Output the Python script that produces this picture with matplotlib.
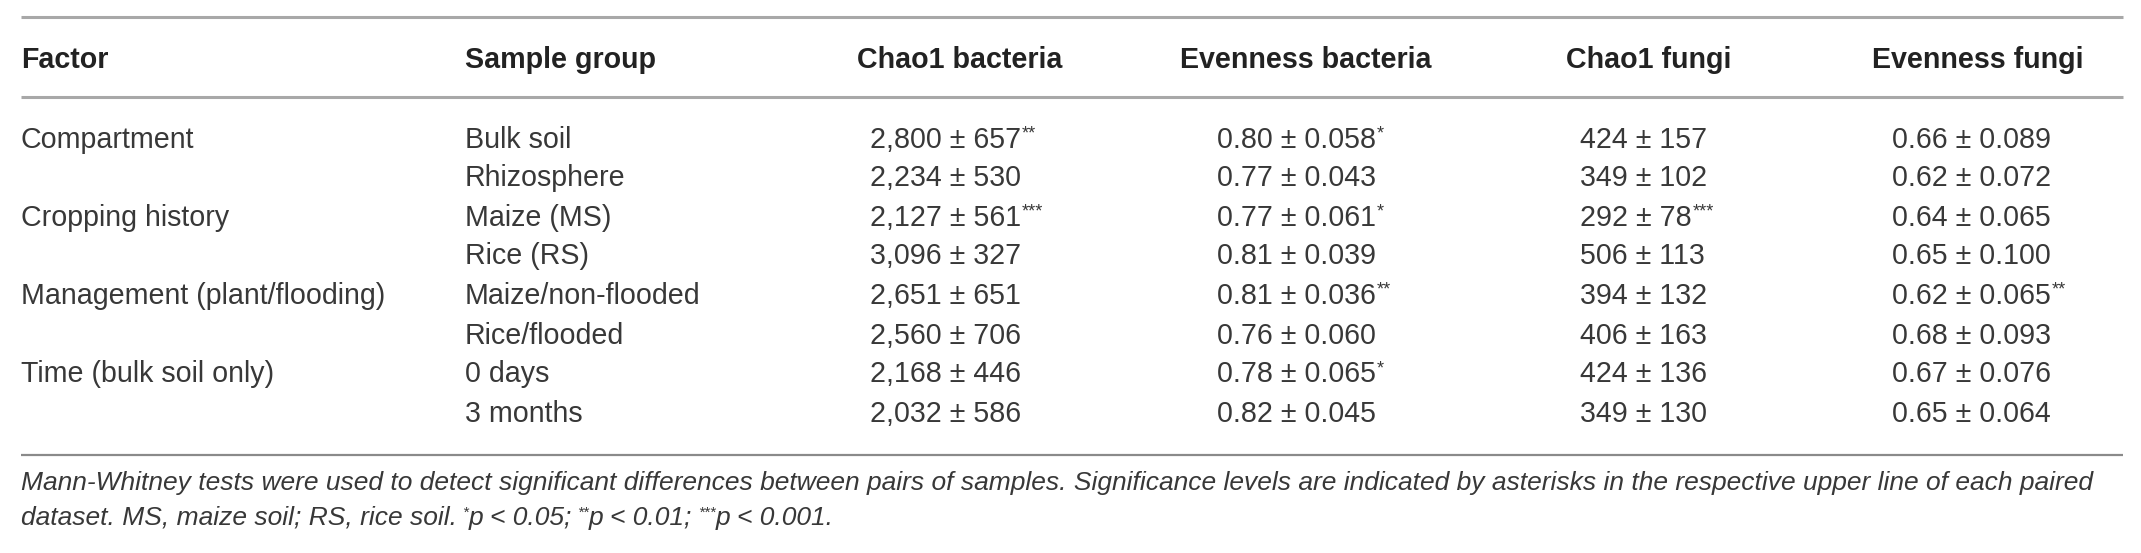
import matplotlib
matplotlib.use("Agg")
import matplotlib.pyplot as plt

# table content
headers = ["Factor", "Sample group", "Chao1 bacteria", "Evenness bacteria", "Chao1 fungi", "Evenness fungi"]
factors = ["Compartment", "", "Cropping history", "", "Management (plant/flooding)", "",
           "Time (bulk soil only)", ""]
groups = ["Bulk soil", "Rhizosphere", "Maize (MS)", "Rice (RS)",
          "Maize/non-flooded", "Rice/flooded", "0 days", "3 months"]

chao1_bac_mean = [2800, 2234, 2127, 3096, 2651, 2560, 2168, 2032]
chao1_bac_sd = [657, 530, 561, 327, 651, 706, 446, 586]
chao1_bac_sig = ["**", "", "***", "", "", "", "", ""]

even_bac_mean = [0.80, 0.77, 0.77, 0.81, 0.81, 0.76, 0.78, 0.82]
even_bac_sd = [0.058, 0.043, 0.061, 0.039, 0.036, 0.060, 0.065, 0.045]
even_bac_sig = ["*", "", "*", "", "**", "", "*", ""]

chao1_fun_mean = [424, 349, 292, 506, 394, 406, 424, 349]
chao1_fun_sd = [157, 102, 78, 113, 132, 163, 136, 130]
chao1_fun_sig = ["", "", "***", "", "", "", "", ""]

even_fun_mean = [0.66, 0.62, 0.64, 0.65, 0.62, 0.68, 0.67, 0.65]
even_fun_sd = [0.089, 0.072, 0.065, 0.100, 0.065, 0.093, 0.076, 0.064]
even_fun_sig = ["", "", "", "", "**", "", "", ""]

footnote1 = ("Mann-Whitney tests were used to detect significant differences between pairs of samples. "
             "Significance levels are indicated by asterisks in the respective upper line of each paired")
footnote2 = [("dataset. MS, maize soil; RS, rice soil.", False), ("*", True), ("p < 0.05;", False),
             ("**", True), ("p < 0.01;", False), ("***", True), ("p < 0.001.", False)]

W, H = 2141, 553
fig = plt.figure(figsize=(W / 100, H / 100), dpi=100)
ax = fig.add_axes([0, 0, 1, 1])
ax.set_xlim(0, W)
ax.set_ylim(H, 0)
ax.axis("off")

FONT = "Liberation Sans"
FS = 20.6
HEAD_COL = "#222222"
TXT_COL = "#383838"

head_x = [21, 465, 857, 1180, 1566, 1872]
val_x = [870, 1217, 1580, 1892]
x0, x1 = 21, 2123
head_y = 58
row_y = [137, 176, 215, 254, 293, 333, 372, 412]
cap = 10.5  # half cap height, baseline sits this far below the row centre

# rules
ax.plot([x0, x1], [17, 17], color="#a8a8a8", lw=2.2, solid_capstyle="butt")
ax.plot([x0, x1], [97, 97], color="#a8a8a8", lw=2.2, solid_capstyle="butt")
ax.plot([x0, x1], [455, 455], color="#8a8a8a", lw=1.6, solid_capstyle="butt")

for hx, h in zip(head_x, headers):
    ax.text(hx, head_y + cap, h, fontsize=FS, fontweight="bold", family=FONT,
            color=HEAD_COL, ha="left", va="baseline")


def cell(x, y, s, sig):
    base = y + cap
    t = ax.text(x, base, s, fontsize=FS, family=FONT, color=TXT_COL,
                ha="left", va="baseline")
    if sig:
        ax.annotate(sig, xy=(1.0, base - 9), xycoords=(t, "data"), xytext=(0.5, 0),
                    textcoords="offset points", fontsize=13, family=FONT,
                    color=TXT_COL, ha="left", va="baseline")


for i, y in enumerate(row_y):
    cell(head_x[0], y, factors[i], "")
    cell(head_x[1], y, groups[i], "")
    cell(val_x[0], y, f"{chao1_bac_mean[i]:,} ± {chao1_bac_sd[i]}", chao1_bac_sig[i])
    cell(val_x[1], y, f"{even_bac_mean[i]:.2f} ± {even_bac_sd[i]:.3f}", even_bac_sig[i])
    cell(val_x[2], y, f"{chao1_fun_mean[i]} ± {chao1_fun_sd[i]}", chao1_fun_sig[i])
    cell(val_x[3], y, f"{even_fun_mean[i]:.2f} ± {even_fun_sd[i]:.3f}", even_fun_sig[i])

# footnotes
FN = 19
fn_base1, fn_base2 = 481 + 9, 516 + 9
ax.text(x0, fn_base1, footnote1, fontsize=FN, family=FONT, style="italic",
        color=TXT_COL, ha="left", va="baseline")

prev = ax.text(x0, fn_base2, footnote2[0][0], fontsize=FN, family=FONT, style="italic",
               color=TXT_COL, ha="left", va="baseline")
for s, sup in footnote2[1:]:
    if sup:
        prev = ax.annotate(s, xy=(1.0, fn_base2 - 8), xycoords=(prev, "data"), xytext=(4, 0),
                           textcoords="offset points", fontsize=11, family=FONT,
                           style="italic", color=TXT_COL, ha="left", va="baseline")
    else:
        prev = ax.annotate(s, xy=(1.0, fn_base2), xycoords=(prev, "data"), xytext=(0, 0),
                           textcoords="offset points", fontsize=FN, family=FONT,
                           style="italic", color=TXT_COL, ha="left", va="baseline")

fig.savefig("out.png", dpi=100)
